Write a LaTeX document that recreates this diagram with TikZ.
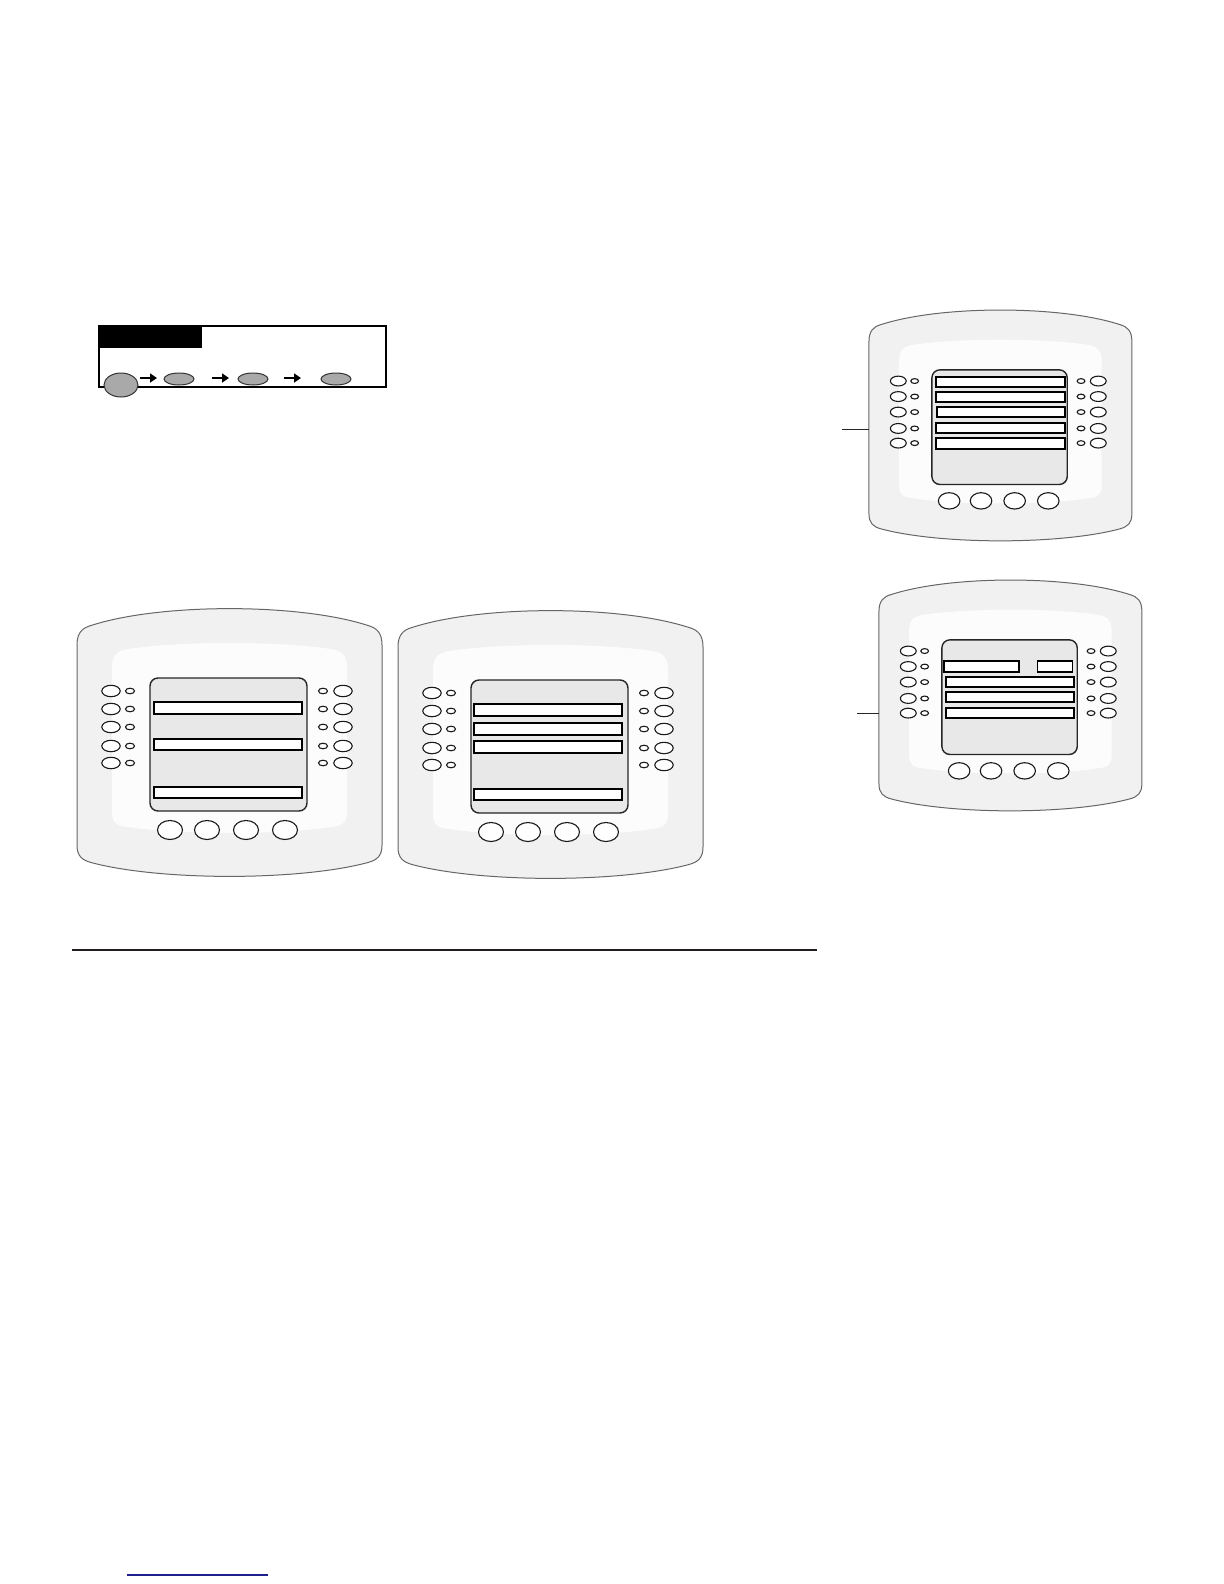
\documentclass[tikz,border=0pt]{standalone}
\usetikzlibrary{arrows.meta}
\definecolor{bezel}{HTML}{F1F1F1}
\definecolor{bezeledge}{HTML}{666666}
\definecolor{innerfill}{HTML}{FCFCFC}
\definecolor{screenfill}{HTML}{E8E8E8}
\definecolor{btngrey}{HTML}{A9A9A9}
\definecolor{rulecol}{HTML}{231F20}
\definecolor{linkblue}{HTML}{1C1F8C}
\tikzset{
  bezelstyle/.style={fill=bezel, draw=bezeledge, line width=0.5bp},
  innerstyle/.style={fill=innerfill},
  screenstyle/.style={fill=screenfill, draw=black!85, line width=0.7bp, rounded corners=4bp},
  barstyle/.style={fill=white, draw=black, line width=0.7bp},
  btnstyle/.style={fill=white, draw=black!90, line width=0.55bp},
  ledstyle/.style={fill=white, draw=black!90, line width=0.55bp},
  greybtn/.style={fill=btngrey, draw=black!80, line width=0.5bp},
  flowarrow/.style={line width=1.3bp, -{Triangle[length=3.5bp,width=4.5bp]}},
  callout/.style={draw=black!85, line width=0.5bp},
}
\newcommand{\devbody}{%
  \path[bezelstyle] (77,645) .. controls (77,633) and (82,628) .. (91,625.5)
    .. controls (160,603) and (299,603) .. (368,625.5)
    .. controls (377,628) and (382,633) .. (382,645)
    -- (382,845)
    .. controls (382,856) and (377,860) .. (368,862.5)
    .. controls (299,881) and (160,881) .. (91,862.5)
    .. controls (82,860) and (77,856) .. (77,845) -- cycle;
  \path[innerstyle] (112,668) .. controls (112,656) and (116,651) .. (128,649)
    .. controls (180,641) and (279,641) .. (331,649)
    .. controls (343,651) and (347,656) .. (347,668)
    -- (347,812)
    .. controls (347,822) and (343,826) .. (331,827)
    .. controls (279,835) and (180,835) .. (128,827)
    .. controls (116,826) and (112,822) .. (112,812) -- cycle;
  \draw[screenstyle] (150,678) rectangle (307,811);
  \foreach \yy in {691,709,727,746,763}{
    \draw[btnstyle] (111,\yy) ellipse [x radius=9.2, y radius=5.7];
    \draw[ledstyle] (130,\yy) ellipse [x radius=4.5, y radius=2.8];
    \draw[ledstyle] (323,\yy) ellipse [x radius=4.5, y radius=2.8];
    \draw[btnstyle] (343,\yy) ellipse [x radius=9.2, y radius=5.7];
  }
  \foreach \xx in {170,207,246,285}{
    \draw[btnstyle] (\xx,830) ellipse [x radius=12.5, y radius=9.5];
  }
}
\newcommand{\scrbar}[4]{\draw[barstyle] (#1,#2) rectangle (#3,#4);}
\begin{document}
\begin{tikzpicture}[x=0.5bp,y=-0.5bp]
\useasboundingbox (0,0) rectangle (1224,1584);
% top key sequence box
\draw[line width=0.8bp] (99,326) rectangle (386,387);
\fill[black] (99,326) rectangle (202,348);
\draw[greybtn] (121,385) ellipse [x radius=17, y radius=12];
\foreach \xx in {179,253,336}{
  \draw[greybtn] (\xx,379) ellipse [x radius=15, y radius=6];
}
\coordinate (a1s) at (140,378); \coordinate (a1e) at (157,378);
\coordinate (a2s) at (212,378); \coordinate (a2e) at (229,378);
\coordinate (a3s) at (284,378); \coordinate (a3e) at (301,378);
\draw[flowarrow] (a1s) -- (a1e);
\draw[flowarrow] (a2s) -- (a2e);
\draw[flowarrow] (a3s) -- (a3e);
% device 1
\begin{scope}
  \devbody
  \scrbar{154}{702}{302}{714}
  \scrbar{154}{739}{302}{750}
  \scrbar{154}{787}{302}{798}
\end{scope}
% device 2
\begin{scope}[shift={(321,2)}]
  \devbody
  \scrbar{153}{702}{301}{714}
  \scrbar{153}{721}{301}{733}
  \scrbar{153}{739}{301}{751}
  \scrbar{153}{787}{301}{798}
\end{scope}
% device 3
\begin{scope}[shift={(802.6,-214.6)}, scale=0.862]
  \devbody
  \scrbar{154.6}{686.3}{304.3}{697.9}
  \scrbar{154.6}{703.7}{304.3}{715.3}
  \scrbar{155.7}{721.1}{304.3}{732.7}
  \scrbar{154.6}{739.6}{304.3}{751.2}
  \scrbar{154.6}{757}{304.3}{769.9}
\end{scope}
% device 4
\begin{scope}[shift={(812.6,55.4)}, scale=0.862]
  \devbody
  \scrbar{152.4}{702.6}{239.4}{715.4}
  \scrbar{260.9}{702.6}{301.5}{715.4}
  \scrbar{154.8}{721.1}{303.3}{732.7}
  \scrbar{154.8}{738.5}{303.3}{750.1}
  \scrbar{154.8}{757}{303.3}{768.6}
\end{scope}
% callout lines
\coordinate (c3a) at (842,429); \coordinate (c3b) at (869,429);
\coordinate (c4a) at (857,713); \coordinate (c4b) at (879,713);
\draw[callout] (c3a) -- (c3b);
\draw[callout] (c4a) -- (c4b);
% horizontal rule
\coordinate (r1) at (72,950); \coordinate (r2) at (817,950);
\draw[rulecol, line width=1.1bp] (r1) -- (r2);
% blue underline
\coordinate (u1) at (127,1575); \coordinate (u2) at (268,1575);
\draw[linkblue, line width=0.6bp] (u1) -- (u2);
\end{tikzpicture}
\end{document}
